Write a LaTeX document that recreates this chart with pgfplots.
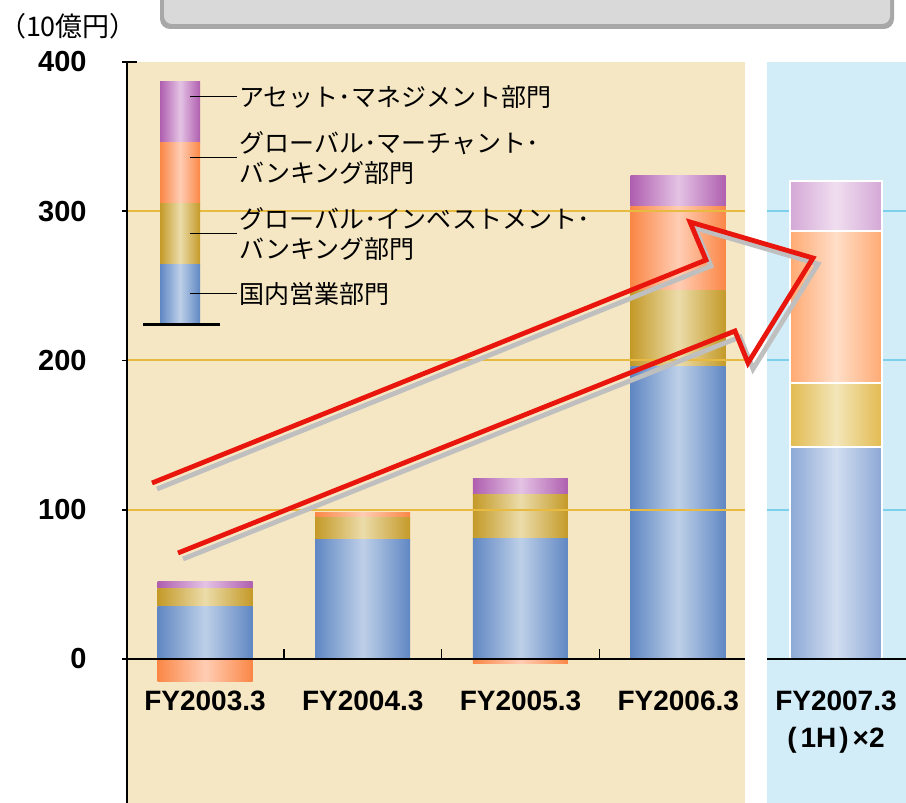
\documentclass[border=0pt]{standalone}
\usepackage{fontspec}
\setmainfont{Liberation Sans}
\newfontfamily\cjk{Noto Sans CJK JP}
\usepackage{pgfplots}
\pgfplotsset{compat=1.18}

\definecolor{bgbeige}{HTML}{F6E7C4}
\definecolor{bgblue}{HTML}{D3EDF8}
\definecolor{gridgold}{HTML}{E8BA40}
\definecolor{gridblue}{HTML}{7DD0EC}
\definecolor{blueE}{HTML}{6087C3}\definecolor{blueC}{HTML}{BED0E8}
\definecolor{goldE}{HTML}{C49A28}\definecolor{goldC}{HTML}{EBDCAA}
\definecolor{oranE}{HTML}{FA8746}\definecolor{oranC}{HTML}{FFCDB4}
\definecolor{purpE}{HTML}{AF5FAF}\definecolor{purpC}{HTML}{E4C3E4}
\definecolor{blueE2}{HTML}{8CA8D6}\definecolor{blueC2}{HTML}{D2DEF0}
\definecolor{goldE2}{HTML}{E2BA50}\definecolor{goldC2}{HTML}{F3E6B9}
\definecolor{oranE2}{HTML}{FFAA73}\definecolor{oranC2}{HTML}{FFDEC8}
\definecolor{purpE2}{HTML}{D4A8D6}\definecolor{purpC2}{HTML}{F0DEF0}
\definecolor{arrowred}{HTML}{E8160C}
\definecolor{shadowgray}{HTML}{BFBFBF}

\pgfplotsset{base/.style={
  scale only axis, width=389.5pt, height=370.5pt,
  at={(63.5pt,0pt)}, anchor=south west,
  xmin=-0.4945, xmax=4.444, ymin=-96.48, ymax=400,
  clip=false,
}}
\tikzset{
  shadeB/.style={draw=none, left color=blueE, right color=blueE, middle color=blueC},
  shadeG/.style={draw=none, left color=goldE, right color=goldE, middle color=goldC},
  shadeO/.style={draw=none, left color=oranE, right color=oranE, middle color=oranC},
  shadeP/.style={draw=none, left color=purpE, right color=purpE, middle color=purpC},
  shadeB2/.style={draw=white, line width=1pt, left color=blueE2, right color=blueE2, middle color=blueC2},
  shadeG2/.style={draw=white, line width=1pt, left color=goldE2, right color=goldE2, middle color=goldC2},
  shadeO2/.style={draw=white, line width=1pt, left color=oranE2, right color=oranE2, middle color=oranC2},
  shadeP2/.style={draw=white, line width=1pt, left color=purpE2, right color=purpE2, middle color=purpC2},
}

\begin{document}
\begin{tikzpicture}
\useasboundingbox (0,0) rectangle (453pt,401.5pt);

% ---- backgrounds and light-blue grid
\begin{axis}[base, hide axis]
\fill[bgbeige] (axis cs:-0.4945,-96.48) rectangle (axis cs:3.424,400);
\fill[bgblue] (axis cs:3.563,-96.48) rectangle (axis cs:4.444,400);
\draw[gridblue, line width=1pt] (axis cs:3.563,100) -- (axis cs:4.444,100);
\draw[gridblue, line width=1pt] (axis cs:3.563,200) -- (axis cs:4.444,200);
\draw[gridblue, line width=1pt] (axis cs:3.563,300) -- (axis cs:4.444,300);
\end{axis}

% ---- ticks and labels
\begin{axis}[base,
  axis x line=middle, axis y line=left,
  axis line style={draw=none},
  ytick={0,100,200,300,400}, yticklabels={0,100,200,300,400},
  ytick style={black, line width=0.8pt}, major tick length=5pt,
  yticklabel style={font=\bfseries\fontsize{14.5}{14.5}\selectfont, inner sep=0pt, xshift=-17.5pt},
  xtick={0,1,2,3,4},
  xticklabels={FY2003.3,FY2004.3,FY2005.3,FY2006.3,{FY2007.3\\(\kern2pt 1H\kern1.5pt)\kern2pt×2}},
  xtick style={draw=none},
  xticklabel style={font=\bfseries\fontsize{14}{18.5}\selectfont, align=center, yshift=-10pt},
]
\addplot[draw=none, mark=none, forget plot] coordinates {(0,0)};
\end{axis}

% ---- stacked bars, one axis per bar so that each bar gets its own shading
% order: domestic (blue), global investment banking (gold), global merchant banking (orange), asset management (purple)
% FY2003.3
\begin{axis}[base, hide axis, ybar stacked, bar width=47.5pt]
\addplot[shadeB] coordinates {(0,35)};
\addplot[shadeG] coordinates {(0,12)};
\addplot[shadeP] coordinates {(0,5)};
\end{axis}
% FY2004.3
\begin{axis}[base, hide axis, ybar stacked, bar width=47.5pt]
\addplot[shadeB] coordinates {(1,80)};
\addplot[shadeG] coordinates {(1,15)};
\addplot[shadeO] coordinates {(1,3)};
\end{axis}
% FY2005.3
\begin{axis}[base, hide axis, ybar stacked, bar width=47.5pt]
\addplot[shadeB] coordinates {(2,81)};
\addplot[shadeG] coordinates {(2,29.5)};
\addplot[shadeP] coordinates {(2,10.5)};
\end{axis}
% FY2006.3
\begin{axis}[base, hide axis, ybar stacked, bar width=47.5pt]
\addplot[shadeB] coordinates {(3,196)};
\addplot[shadeG] coordinates {(3,51)};
\addplot[shadeO] coordinates {(3,56)};
\addplot[shadeP] coordinates {(3,21)};
\end{axis}
% FY2007.3 (1H) x2
\begin{axis}[base, hide axis, ybar stacked, bar width=46pt]
\addplot[shadeB2] coordinates {(4,142)};
\addplot[shadeG2] coordinates {(4,43)};
\addplot[shadeO2] coordinates {(4,102)};
\addplot[shadeP2] coordinates {(4,33)};
\end{axis}

% ---- negative values (global merchant banking), gold grid, zero line, axis line
\begin{axis}[base, hide axis, ybar, bar width=47.5pt, bar shift=0pt]
\addplot[shadeO] coordinates {(0,-15)};
\addplot[shadeO] coordinates {(2,-3)};
\draw[gridgold, line width=1pt] (axis cs:-0.4945,100) -- (axis cs:3.424,100);
\draw[gridgold, line width=1pt] (axis cs:-0.4945,200) -- (axis cs:3.424,200);
\draw[gridgold, line width=1pt] (axis cs:-0.4945,300) -- (axis cs:3.424,300);
\draw[black, line width=1pt] (axis cs:-0.4945,0) -- (axis cs:3.424,0);
\draw[black, line width=1pt] (axis cs:3.563,0) -- (axis cs:4.444,0);
\draw[black, line width=0.8pt] (axis cs:0.5,0) -- (axis cs:0.5,7);
\draw[black, line width=0.8pt] (axis cs:1.5,0) -- (axis cs:1.5,7);
\draw[black, line width=0.8pt] (axis cs:2.5,0) -- (axis cs:2.5,7);
\draw[black, line width=0.8pt] (axis cs:-0.4945,400) -- (axis cs:-0.4945,-96.48);
\draw[black, line width=0.8pt] (axis cs:-0.4945,400) -- (axis cs:-0.43,400);
\end{axis}

% ---- title box (cut off at top)
\fill[rounded corners=5pt, black!34] (80pt,387pt) rectangle (447pt,425pt);
\fill[rounded corners=4pt, black!15] (82pt,389.5pt) rectangle (445pt,425pt);

% ---- unit label
\node[font=\cjk\fontsize{13.5}{14}\selectfont, inner sep=0pt] at (34pt,388.5pt) {（10億円）};

% ---- legend
\fill[shadeP] (80pt,330pt) rectangle (100pt,360.5pt);
\fill[shadeO] (80pt,299.5pt) rectangle (100pt,330pt);
\fill[shadeG] (80pt,269pt) rectangle (100pt,299.5pt);
\fill[shadeB] (80pt,239pt) rectangle (100pt,269pt);
\draw[black, line width=1.5pt] (71.5pt,239pt) -- (110pt,239pt);
\draw[black, line width=0.5pt] (95pt,353pt) -- (118.5pt,353pt);
\draw[black, line width=0.5pt] (95pt,322.5pt) -- (118.5pt,322.5pt);
\draw[black, line width=0.5pt] (95pt,284.5pt) -- (118.5pt,284.5pt);
\draw[black, line width=0.5pt] (95pt,254.5pt) -- (118.5pt,254.5pt);
\begin{scope}[every node/.style={anchor=west, inner sep=0pt, align=left, font=\cjk\fontsize{12.5}{15}\selectfont}]
\node at (119.5pt,353pt) {アセット･マネジメント部門};
\node at (119.5pt,322.5pt) {グローバル･マーチャント･\\バンキング部門};
\node at (119.5pt,284.5pt) {グローバル･インベストメント･\\バンキング部門};
\node at (119.5pt,254.5pt) {国内営業部門};
\end{scope}

% ---- arrow
\begin{scope}[line width=2.4pt, miter limit=10]
\draw[shadowgray, shift={(2.5pt,-3pt)}] (76pt,160pt) -- (353pt,271.5pt) -- (345pt,290.5pt) -- (406.5pt,272.5pt) -- (374pt,220pt) -- (367.5pt,236pt) -- (89pt,125pt);
\draw[arrowred] (76pt,160pt) -- (353pt,271.5pt) -- (345pt,290.5pt) -- (406.5pt,272.5pt) -- (374pt,220pt) -- (367.5pt,236pt) -- (89pt,125pt);
\end{scope}
\end{tikzpicture}
\end{document}
